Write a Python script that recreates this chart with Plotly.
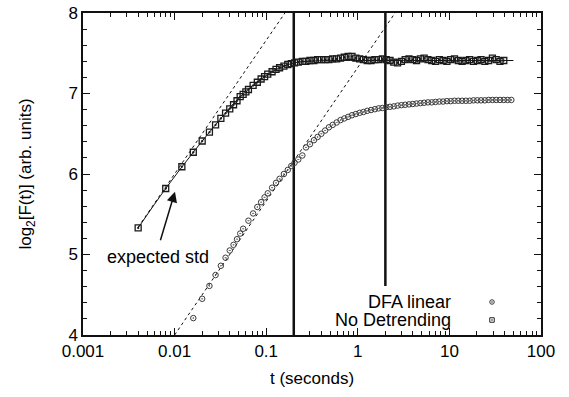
import plotly.graph_objects as go

# ---------------- data ----------------
nodet_t = [0.004, 0.008, 0.012, 0.016, 0.020, 0.024, 0.028, 0.032, 0.036, 0.040,
           0.044, 0.048, 0.052, 0.056, 0.060, 0.064, 0.072, 0.080, 0.088, 0.096,
           0.104, 0.116, 0.128, 0.140, 0.156, 0.172, 0.188, 0.204, 0.224, 0.248,
           0.272, 0.300, 0.332, 0.364, 0.400, 0.440, 0.484, 0.532, 0.588, 0.648,
           0.712, 0.784, 0.864, 0.952, 1.048, 1.152, 1.268, 1.396, 1.536, 1.688,
           1.856, 2.044, 2.248, 2.472, 2.720, 2.992, 3.292, 3.620, 3.984, 4.380,
           4.820, 5.300, 5.832, 6.416, 7.056, 7.764, 8.540, 9.392, 10.33, 11.37,
           12.50, 13.75, 15.13, 16.64, 18.31, 20.14, 22.15, 24.37, 26.80, 29.48,
           32.43, 35.67, 39.24]
nodet_y = [5.33, 5.82, 6.09, 6.27, 6.41, 6.52, 6.61, 6.69, 6.755, 6.81,
           6.86, 6.91, 6.96, 6.99, 7.02, 7.05, 7.10, 7.14, 7.18, 7.21,
           7.24, 7.27, 7.30, 7.32, 7.34, 7.36, 7.37, 7.38, 7.39, 7.40,
           7.40, 7.41, 7.41, 7.42, 7.42, 7.42, 7.42, 7.43, 7.43, 7.44,
           7.45, 7.46, 7.46, 7.44, 7.43, 7.42, 7.41, 7.41, 7.42, 7.42,
           7.43, 7.42, 7.41, 7.39, 7.38, 7.40, 7.42, 7.43, 7.42, 7.41,
           7.43, 7.44, 7.42, 7.41, 7.40, 7.42, 7.41, 7.40, 7.42, 7.43,
           7.41, 7.40, 7.41, 7.42, 7.40, 7.41, 7.42, 7.40, 7.41, 7.44,
           7.42, 7.40, 7.41]

dfa_t = [0.016, 0.020, 0.024, 0.028, 0.032, 0.036, 0.040, 0.044, 0.048, 0.052,
         0.056, 0.064, 0.072, 0.080, 0.088, 0.096, 0.104, 0.116, 0.128, 0.140,
         0.156, 0.172, 0.188, 0.204, 0.224, 0.248, 0.272, 0.300, 0.332, 0.364,
         0.400, 0.440, 0.484, 0.532, 0.588, 0.648, 0.712, 0.784, 0.864, 0.952,
         1.048, 1.152, 1.268, 1.396, 1.536, 1.688, 1.856, 2.044, 2.248, 2.472,
         2.720, 2.992, 3.292, 3.620, 3.984, 4.380, 4.820, 5.300, 5.832, 6.416,
         7.056, 7.764, 8.540, 9.392, 10.33, 11.37, 12.50, 13.75, 15.13, 16.64,
         18.31, 20.14, 22.15, 24.37, 26.80, 29.48, 32.43, 35.67, 39.24, 43.16,
         47.48]
dfa_y = [4.21, 4.45, 4.61, 4.745, 4.86, 4.96, 5.05, 5.12, 5.19, 5.26,
         5.32, 5.42, 5.51, 5.59, 5.65, 5.71, 5.76, 5.83, 5.89, 5.94,
         6.00, 6.05, 6.10, 6.14, 6.18, 6.23, 6.33, 6.37, 6.42, 6.46,
         6.50, 6.54, 6.58, 6.61, 6.64, 6.67, 6.69, 6.71, 6.73, 6.745,
         6.76, 6.77, 6.785, 6.795, 6.805, 6.815, 6.82, 6.83, 6.835, 6.84,
         6.85, 6.855, 6.86, 6.865, 6.87, 6.875, 6.88, 6.885, 6.89, 6.89,
         6.895, 6.90, 6.90, 6.905, 6.905, 6.91, 6.91, 6.91, 6.91, 6.91,
         6.915, 6.915, 6.915, 6.915, 6.92, 6.92, 6.92, 6.92, 6.92, 6.92,
         6.92]

expected_t = [0.004, 0.008, 0.016, 0.032, 0.05, 0.08, 0.12, 0.2, 0.3, 0.5,
              1.0, 2.0, 5.0, 10.0, 20.0, 50.0]
expected_y = [5.33, 5.82, 6.27, 6.69, 6.94, 7.14, 7.28, 7.38, 7.40, 7.41,
              7.41, 7.41, 7.41, 7.41, 7.41, 7.41]

slope_nodet_t = [0.004, 0.16]
slope_nodet_y = [5.34, 8.0]
slope_dfa_t = [0.01, 2.55]
slope_dfa_y = [4.0, 8.0]

vline_a_t = [0.2, 0.2]
vline_a_y = [4.0, 8.0]
vline_b_t = [2.0, 2.0]
vline_b_y = [4.61, 8.0]

x_tickvals = [0.001, 0.01, 0.1, 1, 10, 100]
x_ticktext = ["0.001", "0.01", "0.1", "1", "10", "100"]
y_tickvals = [4, 5, 6, 7, 8]

series_names = ["DFA linear", "No Detrending"]

# ---------------- figure ----------------
FONT = "Liberation Sans, Arial, Helvetica, sans-serif"
INK = "#111111"

fig = go.Figure()

# dashed H=0.5 guide lines
fig.add_trace(go.Scatter(x=slope_nodet_t, y=slope_nodet_y, mode="lines",
                         line=dict(color=INK, width=1, dash="3px,3px"),
                         showlegend=False, hoverinfo="skip"))
fig.add_trace(go.Scatter(x=slope_dfa_t, y=slope_dfa_y, mode="lines",
                         line=dict(color=INK, width=1, dash="3px,3px"),
                         showlegend=False, hoverinfo="skip"))

# vertical markers
for vx, vy in ((vline_a_t, vline_a_y), (vline_b_t, vline_b_y)):
    fig.add_trace(go.Scatter(x=vx, y=vy, mode="lines",
                             line=dict(color=INK, width=2.5),
                             showlegend=False, hoverinfo="skip"))

# expected std curve
fig.add_trace(go.Scatter(x=expected_t, y=expected_y, mode="lines",
                         line=dict(color=INK, width=1, shape="spline"),
                         showlegend=False))

# DFA linear
fig.add_trace(go.Scatter(x=dfa_t, y=dfa_y, mode="markers", name=series_names[0],
                         marker=dict(symbol="circle-open-dot", size=5.5,
                                     color="#3a3a3a", line=dict(width=1)),
                         showlegend=False))
# No detrending
fig.add_trace(go.Scatter(x=nodet_t, y=nodet_y, mode="markers", name=series_names[1],
                         marker=dict(symbol="square-open-dot", size=6,
                                     color="#1a1a1a", line=dict(width=1.3)),
                         showlegend=False))

# legend keys drawn on an invisible overlay axis (gnuplot style: text then key)
leg_y = [0.1025, 0.0466]
fig.add_trace(go.Scatter(x=[0.893], y=[leg_y[0]], xaxis="x2", yaxis="y2",
                         mode="markers", showlegend=False, hoverinfo="skip",
                         marker=dict(symbol="circle-open-dot", size=4.5,
                                     color="#333333", line=dict(width=1))))
fig.add_trace(go.Scatter(x=[0.893], y=[leg_y[1]], xaxis="x2", yaxis="y2",
                         mode="markers", showlegend=False, hoverinfo="skip",
                         marker=dict(symbol="square-open-dot", size=4.5,
                                     color="#222222", line=dict(width=1))))

annotations = []
for name, ly in zip(series_names, leg_y):
    annotations.append(dict(text=name, xref="paper", yref="paper", x=0.808, y=ly,
                            xanchor="right", yanchor="middle", showarrow=False,
                            font=dict(family=FONT, size=18, color="black")))
# arrow for expected std
annotations.append(dict(text="", xref="x", yref="y", x=-1.996, y=5.78,
                        showarrow=True, ax=-15, ay=50, arrowhead=2, arrowsize=1.4,
                        arrowwidth=1.5, arrowcolor=INK))
annotations.append(dict(text="expected std", xref="paper", yref="paper",
                        x=0.1638, y=0.242, xanchor="center", yanchor="middle",
                        showarrow=False,
                        font=dict(family=FONT, size=18, color="black")))

minor_x = [m * 10.0 ** e for e in range(-3, 2) for m in range(2, 10)]

fig.update_layout(
    width=569, height=397,
    margin=dict(l=83, r=28, t=13, b=62, autoexpand=False),
    paper_bgcolor="white", plot_bgcolor="white",
    font=dict(family=FONT, size=17, color="black"),
    annotations=annotations,
    xaxis=dict(type="log", range=[-3, 2], tickmode="array",
               tickvals=x_tickvals, ticktext=x_ticktext, automargin=False,
               ticks="inside", ticklen=7, tickwidth=1, tickcolor=INK,
               showline=True, linecolor=INK, linewidth=1.5, mirror="allticks",
               showgrid=False, zeroline=False,
               minor=dict(tickmode="array", tickvals=minor_x, ticks="inside",
                          ticklen=4, tickwidth=1, tickcolor=INK, showgrid=False),
               tickfont=dict(size=17),
               title=dict(text="t (seconds)", font=dict(size=17), standoff=12)),
    yaxis=dict(range=[4, 8], tickmode="array", tickvals=y_tickvals, automargin=False,
               ticks="inside", ticklen=7, tickwidth=1, tickcolor=INK,
               showline=True, linecolor=INK, linewidth=1.5, mirror="allticks",
               showgrid=False, zeroline=False,
               minor=dict(dtick=0.2, ticks="inside", ticklen=4, tickwidth=1,
                          tickcolor=INK, showgrid=False),
               tickfont=dict(size=17),
               title=dict(text="log<sub>2</sub>[F(t)] (arb. units)",
                          font=dict(size=17), standoff=32)),
    xaxis2=dict(overlaying="x", range=[0, 1], visible=False),
    yaxis2=dict(overlaying="y", range=[0, 1], visible=False),
)

# remove the browser's default 8px body margin so the figure sits at the page origin
fig.write_html("out.html", config={"displayModeBar": False},
               post_script="document.body.style.margin='0';document.documentElement.style.margin='0';")
